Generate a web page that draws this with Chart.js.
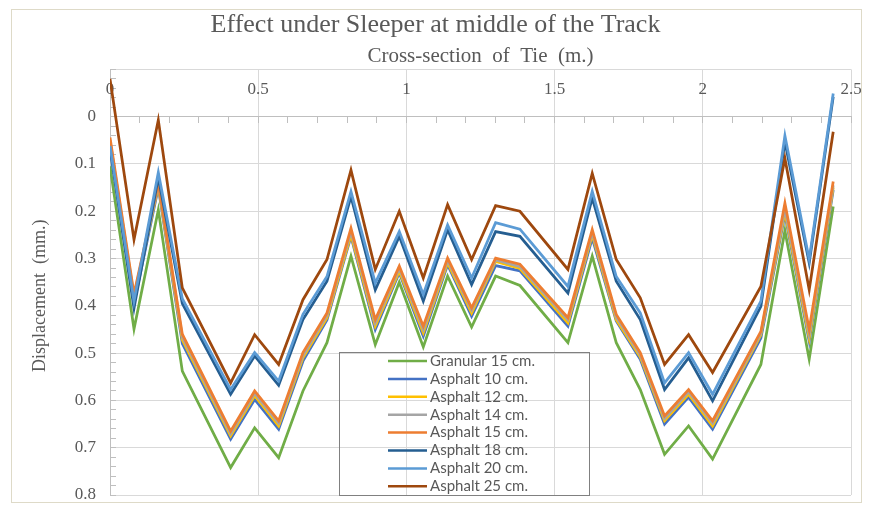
<!DOCTYPE html>
<html>
<head>
<meta charset="utf-8">
<script src="https://cdn.jsdelivr.net/npm/chart.js@4/dist/chart.umd.min.js"></script>
<style>
html,body{margin:0;padding:0;background:#fff;}
#wrap{position:relative;width:870px;height:506px;}
#frame{position:absolute;left:11px;top:9px;width:851px;height:494px;border:1px solid #dedac8;pointer-events:none;box-sizing:border-box;}
canvas{display:block;}
</style>
</head>
<body>
<div id="wrap"><canvas id="c" width="870" height="506"></canvas><div id="frame"></div></div>
<script>
// Cross-section positions along the tie (m.)
const positions = [0, 0.081, 0.163, 0.244, 0.407, 0.488, 0.569, 0.651, 0.732, 0.813, 0.895, 0.976, 1.057, 1.139, 1.22, 1.301, 1.383, 1.545, 1.627, 1.708, 1.789, 1.871, 1.952, 2.033, 2.196, 2.277, 2.359, 2.44];

const seriesLabels = ['Granular 15 cm.', 'Asphalt 10 cm.', 'Asphalt 12 cm.', 'Asphalt 14 cm.', 'Asphalt 15 cm.', 'Asphalt 18 cm.', 'Asphalt 20 cm.', 'Asphalt 25 cm.'];
const seriesColors = ['#70AD47', '#4472C4', '#FFC000', '#A5A5A5', '#ED7D31', '#255E91', '#5B9BD5', '#9E480E'];

// Displacement (mm.)
const granular15 = [0.105, 0.449, 0.197, 0.538, 0.742, 0.658, 0.721, 0.58, 0.478, 0.295, 0.482, 0.35, 0.487, 0.337, 0.445, 0.337, 0.357, 0.478, 0.295, 0.478, 0.577, 0.714, 0.654, 0.724, 0.524, 0.241, 0.513, 0.19];
const asphalt10 = [0.06, 0.395, 0.15, 0.48, 0.682, 0.598, 0.661, 0.517, 0.43, 0.253, 0.45, 0.33, 0.464, 0.313, 0.422, 0.315, 0.326, 0.443, 0.257, 0.432, 0.513, 0.65, 0.593, 0.661, 0.468, 0.207, 0.475, 0.155];
const asphalt12 = [0.055, 0.385, 0.146, 0.472, 0.675, 0.59, 0.654, 0.51, 0.425, 0.25, 0.443, 0.327, 0.457, 0.309, 0.415, 0.306, 0.321, 0.436, 0.25, 0.429, 0.508, 0.643, 0.587, 0.654, 0.461, 0.202, 0.468, 0.15];
const asphalt14 = [0.05, 0.38, 0.143, 0.466, 0.67, 0.585, 0.648, 0.505, 0.42, 0.243, 0.436, 0.321, 0.45, 0.304, 0.409, 0.303, 0.317, 0.43, 0.245, 0.424, 0.504, 0.638, 0.582, 0.648, 0.458, 0.195, 0.46, 0.145];
const asphalt15 = [0.044, 0.375, 0.14, 0.46, 0.665, 0.58, 0.643, 0.499, 0.415, 0.236, 0.429, 0.316, 0.443, 0.299, 0.404, 0.299, 0.312, 0.425, 0.239, 0.418, 0.499, 0.633, 0.577, 0.643, 0.454, 0.183, 0.45, 0.137];
const asphalt18 = [0.068, 0.405, 0.128, 0.395, 0.587, 0.506, 0.568, 0.429, 0.348, 0.169, 0.366, 0.253, 0.39, 0.239, 0.355, 0.243, 0.253, 0.373, 0.172, 0.348, 0.429, 0.577, 0.51, 0.601, 0.401, 0.053, 0.309, -0.042];
const asphalt20 = [0.062, 0.39, 0.118, 0.385, 0.577, 0.499, 0.559, 0.418, 0.338, 0.158, 0.352, 0.243, 0.376, 0.229, 0.341, 0.224, 0.238, 0.359, 0.158, 0.338, 0.415, 0.563, 0.499, 0.587, 0.39, 0.04, 0.302, -0.049];
const asphalt25 = [-0.08, 0.26, 0.007, 0.362, 0.563, 0.461, 0.524, 0.387, 0.302, 0.113, 0.323, 0.2, 0.341, 0.186, 0.302, 0.188, 0.2, 0.323, 0.12, 0.302, 0.383, 0.524, 0.461, 0.541, 0.359, 0.088, 0.366, 0.032];

const xTickLabels = ['0', '0.5', '1', '1.5', '2', '2.5'];
const yTickLabels = ['0', '0.1', '0.2', '0.3', '0.4', '0.5', '0.6', '0.7', '0.8'];

const allSeries = [granular15, asphalt10, asphalt12, asphalt14, asphalt15, asphalt18, asphalt20, asphalt25];

const datasets = allSeries.map((vals, k) => ({
  label: seriesLabels[k],
  data: positions.map((x, i) => ({x: x, y: vals[i]})),
  borderColor: seriesColors[k],
  backgroundColor: seriesColors[k],
  borderWidth: 2.75,
  pointRadius: 0,
  tension: 0,
  fill: false,
  order: allSeries.length - k
}));

const legendBox = {
  id: 'legendBox',
  afterDraw(chart) {
    const ctx = chart.ctx;
    ctx.save();
    ctx.strokeStyle = '#808080';
    ctx.lineWidth = 1;
    ctx.strokeRect(339.5, 352.5, 250, 143);
    ctx.font = '15px Lato';
    ctx.textBaseline = 'middle';
    ctx.textAlign = 'left';
    chart.data.datasets.forEach((ds, k) => {
      const yy = 361 + k * 17.9;
      ctx.strokeStyle = ds.borderColor;
      ctx.lineWidth = 2.5;
      ctx.beginPath();
      ctx.moveTo(388, yy);
      ctx.lineTo(427, yy);
      ctx.stroke();
      ctx.fillStyle = '#595959';
      ctx.fillText(ds.label, 430, yy);
    });
    ctx.restore();
  }
};

Chart.defaults.font.family = '"Liberation Serif", "Times New Roman", serif';
Chart.defaults.color = '#595959';

const isMult = (v, step) => { const k = Math.round(v * 100); return k % step === 0; };

new Chart(document.getElementById('c'), {
  type: 'line',
  data: { datasets: datasets },
  plugins: [legendBox],
  options: {
    responsive: false,
    animation: false,
    events: [],
    layout: { padding: { left: 20, right: 19, top: 0, bottom: 11 } },
    plugins: {
      legend: { display: false },
      tooltip: { enabled: false },
      title: {
        display: true,
        text: 'Effect under Sleeper at middle of the Track',
        color: '#595959',
        font: { size: 26, weight: 'normal' },
        padding: { top: 9.8, bottom: 3.2 }
      },
      subtitle: {
        display: true,
        fullSize: false,
        text: 'Cross-section  of  Tie  (m.)',
        color: '#595959',
        font: { size: 21, weight: 'normal' },
        padding: { top: 0, bottom: 0 }
      }
    },
    scales: {
      y: {
        type: 'linear',
        position: 'left',
        reverse: true,
        min: -0.1,
        max: 0.8,
        afterFit: (s) => { s.width = 90; s.paddingTop = 0; s.paddingBottom = 0; },
        ticks: {
          stepSize: 0.02,
          autoSkip: false,
          padding: 20,
          font: { size: 17 },
          color: '#595959',
          callback: (v) => {
            const k = Math.round(v * 100);
            if (k % 10 !== 0 || k < 0) return '';
            return yTickLabels[k / 10];
          }
        },
        grid: {
          color: (c) => (c.tick && isMult(c.tick.value, 10)) ? '#d9d9d9' : 'rgba(0,0,0,0)',
          lineWidth: 1,
          drawTicks: true,
          tickLength: -6,
          tickColor: '#bfbfbf'
        },
        border: { display: true, color: '#bfbfbf' },
        title: {
          display: true,
          text: 'Displacement  (mm.)      ',
          color: '#595959',
          font: { size: 18 },
          padding: { top: 9, bottom: 0 }
        }
      },
      x: {
        type: 'linear',
        position: { y: 0 },
        min: 0,
        max: 2.5,
        ticks: {
          stepSize: 0.1,
          autoSkip: false,
          maxRotation: 0,
          padding: -43,
          font: { size: 17 },
          color: '#595959',
          callback: (v) => {
            const k = Math.round(v * 10);
            if (k % 5 !== 0) return '';
            return xTickLabels[k / 5];
          }
        },
        grid: {
          color: (c) => (c.tick && isMult(c.tick.value, 50)) ? '#d9d9d9' : 'rgba(0,0,0,0)',
          lineWidth: 1,
          drawTicks: true,
          tickLength: 6,
          tickColor: '#bfbfbf'
        },
        border: { display: true, color: '#bfbfbf' }
      }
    }
  }
});
</script>
</body>
</html>
